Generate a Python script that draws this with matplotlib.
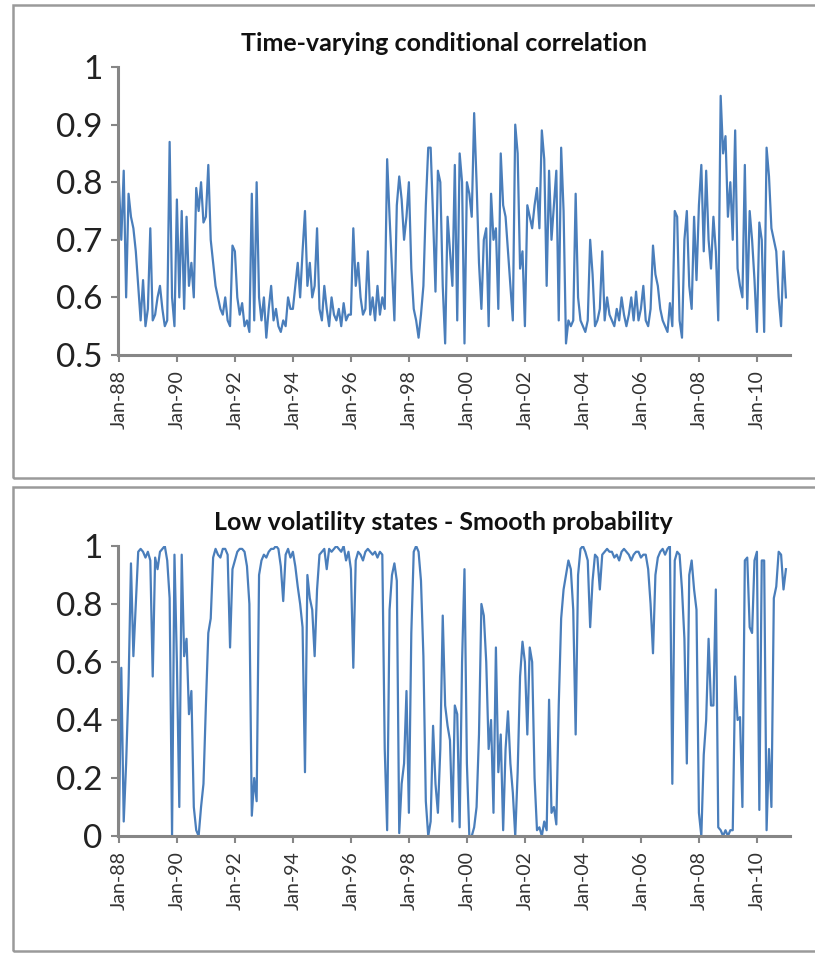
import matplotlib
matplotlib.use("Agg")
from matplotlib import pyplot as plt
from matplotlib.patches import Rectangle
import numpy as np

plt.rcParams['font.family'] = ['Lato', 'DejaVu Sans']

# monthly readings, Jan 1988 .. Dec 2010 (+ Jan 2011)
corr_1988 = [0.80, 0.70, 0.82, 0.60, 0.78, 0.74, 0.72, 0.68, 0.62, 0.56, 0.63, 0.55]
corr_1989 = [0.58, 0.72, 0.56, 0.57, 0.60, 0.62, 0.58, 0.55, 0.56, 0.87, 0.60, 0.55]
corr_1990 = [0.77, 0.60, 0.75, 0.58, 0.74, 0.62, 0.66, 0.60, 0.79, 0.75, 0.80, 0.73]
corr_1991 = [0.74, 0.83, 0.70, 0.66, 0.62, 0.60, 0.58, 0.57, 0.60, 0.56, 0.55, 0.69]
corr_1992 = [0.68, 0.60, 0.57, 0.59, 0.55, 0.56, 0.54, 0.78, 0.56, 0.80, 0.60, 0.56]
corr_1993 = [0.60, 0.53, 0.58, 0.62, 0.56, 0.58, 0.55, 0.54, 0.56, 0.55, 0.60, 0.58]
corr_1994 = [0.58, 0.62, 0.66, 0.60, 0.68, 0.75, 0.62, 0.66, 0.60, 0.62, 0.72, 0.58]
corr_1995 = [0.56, 0.62, 0.58, 0.55, 0.60, 0.57, 0.56, 0.58, 0.55, 0.59, 0.56, 0.57]
corr_1996 = [0.57, 0.72, 0.62, 0.66, 0.60, 0.57, 0.58, 0.68, 0.57, 0.60, 0.56, 0.62]
corr_1997 = [0.57, 0.60, 0.58, 0.84, 0.74, 0.65, 0.56, 0.76, 0.81, 0.77, 0.70, 0.74]
corr_1998 = [0.80, 0.65, 0.58, 0.56, 0.53, 0.57, 0.62, 0.76, 0.86, 0.86, 0.74, 0.61]
corr_1999 = [0.82, 0.80, 0.62, 0.52, 0.74, 0.68, 0.62, 0.83, 0.56, 0.85, 0.80, 0.52]
corr_2000 = [0.80, 0.78, 0.74, 0.92, 0.80, 0.66, 0.58, 0.70, 0.72, 0.55, 0.78, 0.70]
corr_2001 = [0.72, 0.58, 0.85, 0.76, 0.74, 0.68, 0.62, 0.56, 0.90, 0.85, 0.65, 0.68]
corr_2002 = [0.55, 0.76, 0.74, 0.72, 0.76, 0.79, 0.72, 0.89, 0.84, 0.62, 0.82, 0.70]
corr_2003 = [0.76, 0.82, 0.56, 0.86, 0.75, 0.52, 0.56, 0.55, 0.56, 0.78, 0.60, 0.56]
corr_2004 = [0.55, 0.54, 0.56, 0.70, 0.64, 0.55, 0.56, 0.58, 0.68, 0.56, 0.60, 0.57]
corr_2005 = [0.56, 0.55, 0.58, 0.56, 0.60, 0.57, 0.55, 0.57, 0.60, 0.56, 0.61, 0.56]
corr_2006 = [0.58, 0.62, 0.56, 0.55, 0.58, 0.69, 0.64, 0.62, 0.58, 0.56, 0.55, 0.54]
corr_2007 = [0.59, 0.55, 0.75, 0.74, 0.56, 0.53, 0.70, 0.75, 0.62, 0.58, 0.74, 0.63]
corr_2008 = [0.76, 0.83, 0.68, 0.82, 0.70, 0.65, 0.74, 0.68, 0.56, 0.95, 0.85, 0.88]
corr_2009 = [0.74, 0.80, 0.70, 0.89, 0.65, 0.62, 0.60, 0.83, 0.58, 0.75, 0.70, 0.63]
corr_2010 = [0.54, 0.73, 0.70, 0.54, 0.86, 0.81, 0.72, 0.70, 0.68, 0.60, 0.55, 0.68]
corr_2011 = [0.60]

prob_1988 = [0.02, 0.58, 0.05, 0.25, 0.52, 0.94, 0.62, 0.80, 0.98, 0.99, 0.98, 0.96]
prob_1989 = [0.98, 0.95, 0.55, 0.96, 0.92, 0.98, 0.99, 1.00, 0.95, 0.82, 0.00, 0.97]
prob_1990 = [0.60, 0.10, 0.97, 0.62, 0.68, 0.42, 0.50, 0.10, 0.02, 0.00, 0.10, 0.18]
prob_1991 = [0.45, 0.70, 0.75, 0.96, 0.99, 0.97, 0.96, 0.99, 0.99, 0.97, 0.65, 0.92]
prob_1992 = [0.95, 0.98, 0.99, 0.99, 0.98, 0.93, 0.80, 0.07, 0.20, 0.12, 0.90, 0.95]
prob_1993 = [0.97, 0.96, 0.98, 0.99, 0.99, 1.00, 0.99, 0.93, 0.81, 0.97, 0.99, 0.96]
prob_1994 = [0.98, 0.93, 0.86, 0.80, 0.72, 0.22, 0.90, 0.82, 0.78, 0.62, 0.85, 0.97]
prob_1995 = [0.98, 0.99, 0.92, 0.99, 0.98, 0.99, 1.00, 0.99, 0.98, 1.00, 0.95, 0.98]
prob_1996 = [0.92, 0.58, 0.95, 0.98, 0.97, 0.95, 0.98, 0.99, 0.98, 0.97, 0.98, 0.96]
prob_1997 = [0.98, 0.97, 0.30, 0.02, 0.78, 0.90, 0.94, 0.88, 0.01, 0.18, 0.25, 0.50]
prob_1998 = [0.08, 0.70, 0.98, 1.00, 0.98, 0.88, 0.62, 0.12, 0.00, 0.05, 0.38, 0.18]
prob_1999 = [0.08, 0.30, 0.76, 0.45, 0.38, 0.33, 0.05, 0.45, 0.42, 0.03, 0.60, 0.92]
prob_2000 = [0.25, 0.00, 0.00, 0.03, 0.10, 0.35, 0.80, 0.76, 0.60, 0.30, 0.40, 0.08]
prob_2001 = [0.65, 0.22, 0.35, 0.02, 0.30, 0.43, 0.25, 0.15, 0.00, 0.22, 0.55, 0.67]
prob_2002 = [0.60, 0.35, 0.65, 0.60, 0.20, 0.02, 0.03, 0.00, 0.05, 0.02, 0.47, 0.08]
prob_2003 = [0.10, 0.04, 0.45, 0.75, 0.85, 0.90, 0.95, 0.92, 0.78, 0.35, 0.90, 0.99]
prob_2004 = [1.00, 0.98, 0.95, 0.72, 0.88, 0.97, 0.96, 0.85, 0.97, 0.98, 0.99, 0.98]
prob_2005 = [0.98, 0.96, 0.97, 0.95, 0.98, 0.99, 0.98, 0.97, 0.95, 0.97, 0.98, 0.98]
prob_2006 = [0.96, 0.97, 0.97, 0.92, 0.80, 0.63, 0.90, 0.96, 0.98, 0.99, 0.97, 0.99]
prob_2007 = [1.00, 0.18, 0.95, 0.98, 0.97, 0.85, 0.68, 0.25, 0.90, 0.95, 0.85, 0.78]
prob_2008 = [0.08, 0.00, 0.28, 0.40, 0.68, 0.45, 0.45, 0.85, 0.03, 0.02, 0.00, 0.02]
prob_2009 = [0.00, 0.02, 0.02, 0.55, 0.40, 0.41, 0.10, 0.95, 0.96, 0.72, 0.70, 0.95]
prob_2010 = [0.98, 0.09, 0.95, 0.95, 0.02, 0.30, 0.10, 0.82, 0.86, 0.98, 0.97, 0.85]
prob_2011 = [0.92]

tick_years = list(range(1988, 2011, 2))
tick_labels = ["Jan-%02d" % (y % 100) for y in tick_years]

corr = np.array(corr_1988 + corr_1989 + corr_1990 + corr_1991 + corr_1992 + corr_1993
                + corr_1994 + corr_1995 + corr_1996 + corr_1997 + corr_1998 + corr_1999
                + corr_2000 + corr_2001 + corr_2002 + corr_2003 + corr_2004 + corr_2005
                + corr_2006 + corr_2007 + corr_2008 + corr_2009 + corr_2010 + corr_2011)
prob = np.array(prob_1988 + prob_1989 + prob_1990 + prob_1991 + prob_1992 + prob_1993
                + prob_1994 + prob_1995 + prob_1996 + prob_1997 + prob_1998 + prob_1999
                + prob_2000 + prob_2001 + prob_2002 + prob_2003 + prob_2004 + prob_2005
                + prob_2006 + prob_2007 + prob_2008 + prob_2009 + prob_2010 + prob_2011)
t = 1988 + np.arange(len(corr)) / 12.0

line_col = "#4a7ebb"
axis_col = "#868686"


def excel_axes(ax, ylim, yticks, ylabels):
    ax.set_xlim(1987.97, 2011.14)
    ax.set_ylim(*ylim)
    for s in ["top", "right"]:
        ax.spines[s].set_visible(False)
    for s in ["left", "bottom"]:
        ax.spines[s].set_color(axis_col)
        ax.spines[s].set_linewidth(2.2)
    ax.set_yticks(yticks)
    ax.set_yticklabels(ylabels)
    ax.set_xticks(tick_years)
    ax.set_xticklabels(tick_labels, rotation=90)
    ax.tick_params(axis="y", direction="out", length=5, width=1.5, color=axis_col,
                   labelsize=24, labelcolor="#222222", pad=6)
    ax.tick_params(axis="x", direction="out", length=5, width=1.5, color=axis_col,
                   labelsize=14, labelcolor="#333333", pad=6)


fig = plt.figure(figsize=(8.15, 9.55), dpi=100)

# chart-area frames
fig.patches.append(Rectangle((0.016, 0.4995), 1.0, 0.4953, transform=fig.transFigure,
                             fill=False, edgecolor="#9a9a9a", linewidth=1.8))
fig.patches.append(Rectangle((0.016, 0.004), 1.0, 0.486, transform=fig.transFigure,
                             fill=False, edgecolor="#9a9a9a", linewidth=1.8))

ax1 = fig.add_axes([0.1448, 0.6283, 0.8245, 0.3015])
ax1.plot(t, corr, color=line_col, linewidth=1.6)
excel_axes(ax1, (0.5, 1.0), [0.5, 0.6, 0.7, 0.8, 0.9, 1.0],
           ["0.5", "0.6", "0.7", "0.8", "0.9", "1"])

ax2 = fig.add_axes([0.1448, 0.1246, 0.8245, 0.3037])
ax2.plot(t, prob, color=line_col, linewidth=1.6)
excel_axes(ax2, (0.0, 1.0), [0, 0.2, 0.4, 0.6, 0.8, 1.0],
           ["0", "0.2", "0.4", "0.6", "0.8", "1"])

fig.text(0.545, 0.954, "Time-varying conditional correlation", ha="center", va="center",
         fontsize=18, fontweight="bold", color="#111111")
fig.text(0.544, 0.4524, "Low volatility states - Smooth probability", ha="center", va="center",
         fontsize=18, fontweight="bold", color="#111111")

plt.savefig("out.png", dpi=100)
plt.close()
